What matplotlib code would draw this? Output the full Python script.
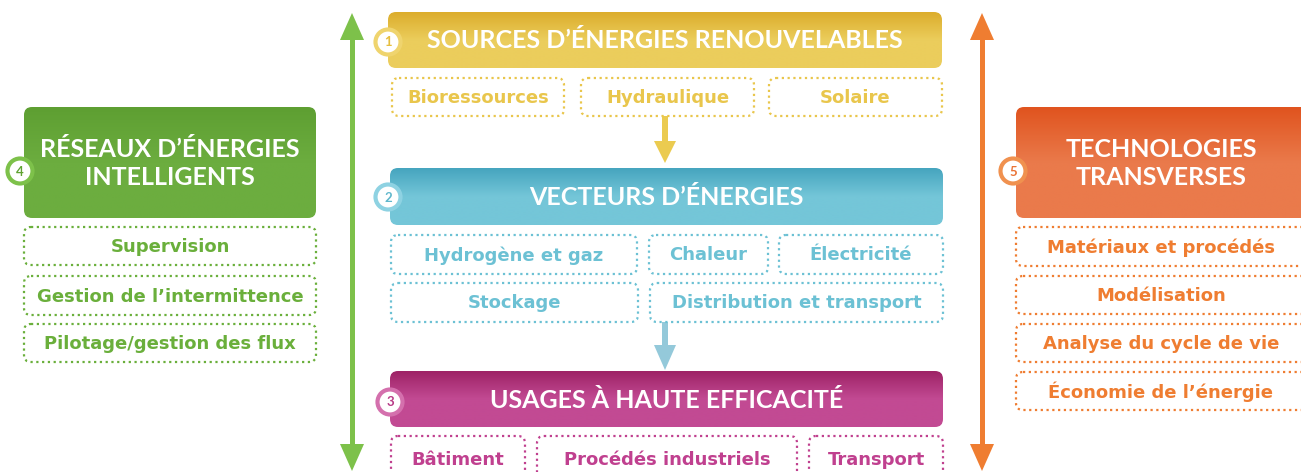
import numpy as np
import matplotlib
matplotlib.use("Agg")
import matplotlib.pyplot as plt
from matplotlib.patches import FancyBboxPatch, Circle, Polygon
from matplotlib.colors import LinearSegmentedColormap

plt.rcParams['font.family'] = ['Lato', 'DejaVu Sans']
SUBFONT = ['DejaVu Sans']

# ---- content ----
headers = ["SOURCES D\u2019\u00c9NERGIES RENOUVELABLES", "VECTEURS D\u2019\u00c9NERGIES",
           "USAGES \u00c0 HAUTE EFFICACIT\u00c9"]
sources = ["Bioressources", "Hydraulique", "Solaire"]
vecteurs_row1 = ["Hydrog\u00e8ne et gaz", "Chaleur", "\u00c9lectricit\u00e9"]
vecteurs_row2 = ["Stockage", "Distribution et transport"]
usages = ["B\u00e2timent", "Proc\u00e9d\u00e9s industriels", "Transport"]
reseaux_title = "R\u00c9SEAUX D\u2019\u00c9NERGIES\nINTELLIGENTS"
reseaux = ["Supervision", "Gestion de l\u2019intermittence", "Pilotage/gestion des flux"]
techno_title = "TECHNOLOGIES\nTRANSVERSES"
techno = ["Mat\u00e9riaux et proc\u00e9d\u00e9s", "Mod\u00e9lisation", "Analyse du cycle de vie",
          "\u00c9conomie de l\u2019\u00e9nergie"]
numbers = ["1", "2", "3", "4", "5"]

YEL = ("#dcad2c", "#ebcd5c", "#e9c64c")
BLU = ("#46a5bf", "#74c6d8", "#6cc1d4")
MAG = ("#9e2366", "#c24a93", "#c0408f")
GRN = ("#5e9f32", "#6cad3f", "#6aaf3b")
ORA = ("#e0541f", "#ea7a4b", "#ef7d31")

W, H = 1301, 472
fig = plt.figure(figsize=(W / 100, H / 100), dpi=100)
ax = fig.add_axes([0, 0, 1, 1])


def header(x0, y0, x1, y1, cols, text, fs, r=8, tx=None):
    patch = FancyBboxPatch((x0, y0), x1 - x0, y1 - y0,
                           boxstyle=f"round,pad=0,rounding_size={r}",
                           fc="none", ec="none", zorder=2)
    ax.add_patch(patch)
    cmap = LinearSegmentedColormap.from_list("g", [cols[0], cols[1], cols[1]])
    grad = np.linspace(0, 1, 100).reshape(-1, 1)
    im = ax.imshow(grad, extent=(x0, x1, y1, y0), cmap=cmap, aspect="auto",
                   zorder=2, interpolation="bilinear")
    im.set_clip_path(patch)
    ax.text((x0 + x1) / 2 if tx is None else tx, (y0 + y1) / 2 + 1, text,
            color="white", fontsize=fs, fontweight="bold", ha="center",
            va="center", zorder=4, linespacing=1.25)


def dotted(x0, y0, x1, y1, col, text, fs=13, tx=None):
    p = FancyBboxPatch((x0, y0), x1 - x0, y1 - y0,
                       boxstyle="round,pad=0,rounding_size=7",
                       fc="white", ec=col, lw=1.6, ls=(0, (1, 1.6)), zorder=2)
    ax.add_patch(p)
    ax.text((x0 + x1) / 2 if tx is None else tx, (y0 + y1) / 2 + 1, text,
            color=col, fontsize=fs, fontweight="bold", ha="center",
            va="center", zorder=3, family=SUBFONT)


def badge(x, y, col, ring, num):
    ax.add_patch(Circle((x, y), 12.5, fc="white", ec=ring, lw=3, zorder=5))
    ax.text(x, y + 0.5, num, color=col, fontsize=9.5, fontweight="bold",
            ha="center", va="center", zorder=6)


def varrow(x, ytop, ybot, col, lw_px, hw, hl, top=True, bottom=True):
    ys0 = ytop + (hl if top else 0)
    ys1 = ybot - (hl if bottom else 0)
    ax.add_patch(Polygon([(x - lw_px / 2, ys0), (x + lw_px / 2, ys0),
                          (x + lw_px / 2, ys1), (x - lw_px / 2, ys1)],
                         closed=True, fc=col, ec="none", zorder=1))
    if top:
        ax.add_patch(Polygon([(x, ytop), (x - hw / 2, ytop + hl), (x + hw / 2, ytop + hl)],
                             closed=True, fc=col, ec="none", zorder=1))
    if bottom:
        ax.add_patch(Polygon([(x, ybot), (x - hw / 2, ybot - hl), (x + hw / 2, ybot - hl)],
                             closed=True, fc=col, ec="none", zorder=1))


# side arrows
varrow(352, 13, 471, "#7dc14a", 5, 24, 27)
varrow(982, 13, 471, "#ef7d31", 5, 24, 27)

# ---- column 1: sources ----
header(388, 12, 942, 68, YEL, headers[0], 18)
badge(388, 42, "#e6be3e", "#efd46e", numbers[0])
for (a, b), t in zip([(392, 564), (581, 754), (769, 942)], sources):
    dotted(a, 78, b, 116, YEL[2], t)
varrow(665, 116, 163, "#ebcb50", 6, 22, 22, top=False)

# ---- vecteurs ----
header(390, 168, 943, 225, BLU, headers[1], 18)
badge(388, 197, "#5fb7cc", "#8ed2e2", numbers[1])
for (a, b), t in zip([(391, 637), (649, 768), (779, 943)], vecteurs_row1):
    dotted(a, 235, b, 274, BLU[2], t)
for (a, b), t in zip([(391, 638), (650, 943)], vecteurs_row2):
    dotted(a, 283, b, 322, BLU[2], t)
varrow(665, 322, 370, "#94c9da", 6, 22, 25, top=False)

# ---- usages ----
header(390, 371, 943, 427, MAG, headers[2], 18)
badge(390, 402, "#b73a86", "#d470ad", numbers[2])
for (a, b), t in zip([(391, 525), (537, 797), (809, 943)], usages):
    dotted(a, 436, b, 482, MAG[2], t)

# ---- réseaux ----
header(24, 107, 316, 218, GRN, reseaux_title, 18)
badge(20, 171, "#5fa232", "#7dc14a", numbers[3])
for (y0, y1), t in zip([(227, 265), (276, 315), (324, 362)], reseaux):
    dotted(24, y0, 316, y1, GRN[2], t)

# ---- technologies ----
header(1016, 107, 1320, 218, ORA, techno_title, 18, tx=1161)
badge(1013, 171, "#ea7335", "#f0914f", numbers[4])
for (y0, y1), t in zip([(227, 266), (276, 314), (324, 362), (372, 410)], techno):
    dotted(1016, y0, 1320, y1, ORA[2], t, tx=1161)

ax.set_xlim(0, W)
ax.set_ylim(H, 0)
ax.axis("off")
fig.savefig("out.png", dpi=100, facecolor="white")
